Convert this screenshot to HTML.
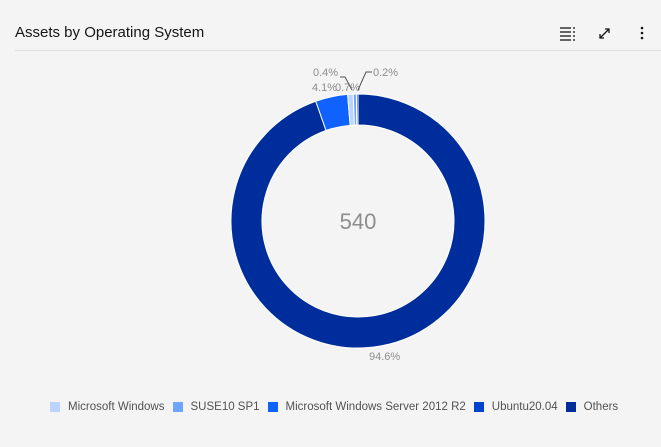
<!DOCTYPE html><html><head><style>
body{margin:0;width:661px;height:447px;background:#f4f4f4;font-family:"Liberation Sans",sans-serif;overflow:hidden;position:relative}
.t{position:absolute;left:15px;top:24px;font-size:15px;color:#161616}
.hr{position:absolute;left:15px;right:0;top:50px;border-top:1px solid #e0e0e0}
.lg{position:absolute;top:401px;left:50px;font-size:11.5px;color:#525252;display:flex;align-items:center;white-space:nowrap}
.lg i{display:inline-block;width:10px;height:10px;margin-right:8px}
.lg span{margin-right:8px;display:flex;align-items:center}
</style></head><body>
<div class="t">Assets by Operating System</div>
<div class="hr"></div>
<svg width="661" height="447" style="position:absolute;left:0;top:0" id="s">
<g stroke="#161616" stroke-width="1.3" fill="none">
<line x1="560" y1="28" x2="571" y2="28"/><line x1="560" y1="32" x2="571" y2="32"/><line x1="560" y1="36" x2="571" y2="36"/><line x1="560" y1="40" x2="571" y2="40"/>
<line x1="573" y1="28" x2="575" y2="28"/><line x1="573" y1="32" x2="575" y2="32"/><line x1="573" y1="36" x2="575" y2="36"/><line x1="573" y1="40" x2="575" y2="40"/>
<path d="M600 38 L609 29 M605 29 H609 V33 M600 34 V38 H604"/>
</g>
<circle cx="642" cy="28" r="1.3" fill="#161616"/><circle cx="642" cy="33" r="1.3" fill="#161616"/><circle cx="642" cy="38" r="1.3" fill="#161616"/>
<g id="arcs"></g>
<text x="358" y="229" text-anchor="middle" font-size="22" fill="#8d8d8d">540</text>
<g font-size="11" fill="#8d8d8d">
<text x="313" y="76">0.4%</text><text x="373" y="76">0.2%</text>
<text x="312" y="91">4.1%</text><text x="335" y="91">0.7%</text>
<text x="369" y="360">94.6%</text>
</g>
<path d="M340 77 H345 L352 90 M372 72 H366 L358 90" stroke="#525252" fill="none"/>
</svg>
<div class="lg">
<span><i style="background:#bad3ff"></i>Microsoft Windows</span>
<span><i style="background:#6ea6ff"></i>SUSE10 SP1</span>
<span><i style="background:#0f62fe"></i>Microsoft Windows Server 2012 R2</span>
<span><i style="background:#0043ce"></i>Ubuntu20.04</span>
<span><i style="background:#002d9c"></i>Others</span>
</div>
<script>
var cx=358,cy=221,R=127,r=96;
var d=[[94.6,"#002d9c"],[4.1,"#0f62fe"],[0.7,"#bad3ff"],[0.4,"#6ea6ff"],[0.2,"#0043ce"]];
var a=0,h="";
function p(rad,ang){ang=ang*Math.PI/180;return (cx+rad*Math.sin(ang)).toFixed(2)+" "+(cy-rad*Math.cos(ang)).toFixed(2);}
d.forEach(function(s){var b=a+s[0]*3.6,l=(b-a)>180?1:0;
h+='<path d="M'+p(R,a)+' A'+R+' '+R+' 0 '+l+' 1 '+p(R,b)+' L'+p(r,b)+' A'+r+' '+r+' 0 '+l+' 0 '+p(r,a)+'Z" fill="'+s[1]+'" stroke="#fff" stroke-width="1"/>';a=b;});
document.getElementById("arcs").innerHTML=h;
</script>
</body></html>
